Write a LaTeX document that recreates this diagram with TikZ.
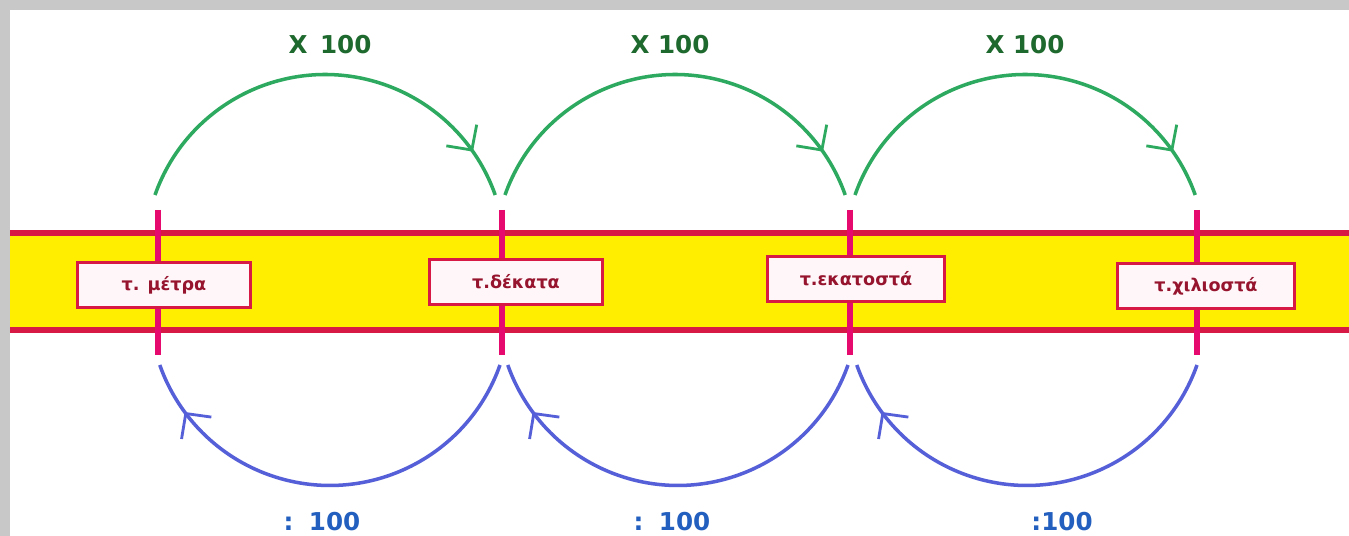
\documentclass[tikz,border=0pt]{standalone}
\usepackage{fontspec}
\setmainfont{DejaVu Sans}
\usetikzlibrary{arrows.meta,decorations.markings}
\definecolor{bandred}{RGB}{215,25,70}
\definecolor{bandyellow}{RGB}{255,238,0}
\definecolor{tickmag}{RGB}{230,10,110}
\definecolor{arcgreen}{RGB}{45,170,95}
\definecolor{lblgreen}{RGB}{30,105,45}
\definecolor{arcblue}{RGB}{85,95,215}
\definecolor{lblblue}{RGB}{35,95,190}
\definecolor{boxtext}{RGB}{150,20,45}
\definecolor{boxfill}{RGB}{255,246,250}
\definecolor{frame}{RGB}{200,200,200}
\tikzset{
  x=0.02cm, y=0.02cm,
  bandline/.style={bandred, line width=3pt},
  tickline/.style={tickmag, line width=3.6pt},
  unitbox/.style={draw=bandred, line width=1.8pt, fill=boxfill, text=boxtext,
    font=\bfseries\fontsize{10}{12}\selectfont, minimum width=3.46cm, minimum height=0.9cm, inner sep=0pt},
  gchev/.style={decoration={markings, mark=at position 0.89 with {\arrow{Straight Barb[length=0.36cm,width=0.74cm,line width=1.6pt]}}}, postaction=decorate},
  bchev/.style={decoration={markings, mark=at position 0.88 with {\arrow{Straight Barb[length=0.36cm,width=0.74cm,line width=1.6pt]}}}, postaction=decorate},
  garc/.style={arcgreen, line width=2pt, gchev},
  barc/.style={arcblue, line width=2pt, bchev},
  glabel/.style={text=lblgreen, font=\bfseries\fontsize{14}{17}\selectfont},
  blabel/.style={text=lblblue, font=\bfseries\fontsize{14}{17}\selectfont},
}
\begin{document}
\begin{tikzpicture}
\useasboundingbox (0,0) rectangle (1349,536);
\fill[frame] (0,0) rectangle (1349,536);
\fill[white] (10,0) rectangle (1349,526);
% band
\fill[bandyellow] (10,206) rectangle (1349,303);
\draw[bandline] (10,303) -- (1349,303);
\draw[bandline] (10,206) -- (1349,206);
% ticks
\foreach \x/\n in {158/1,502/2,850/3,1197/4}{
  \coordinate (tt\n) at (\x,326);
  \coordinate (tb\n) at (\x,181);
  \draw[tickline] (tt\n) -- (tb\n);
}
% boxes
\node[unitbox] (m) at (164,251) {τ. μέτρα};
\node[unitbox] (d) at (516,254) {τ.δέκατα};
\node[unitbox, minimum width=3.54cm] (e) at (856,257) {τ.εκατοστά};
\node[unitbox, minimum width=3.54cm] (c) at (1206,250) {τ.χιλιοστά};
% green arcs (circular, radius 180.4 units = 3.608cm)
\coordinate (g1) at (155,341);
\coordinate (g2) at (505,341);
\coordinate (g3) at (855,341);
\draw[garc] (g1) arc[start angle=160.6, end angle=19.4, radius=3.608cm];
\draw[garc] (g2) arc[start angle=160.6, end angle=19.4, radius=3.608cm];
\draw[garc] (g3) arc[start angle=160.6, end angle=19.4, radius=3.608cm];
% blue arcs
\coordinate (b1) at (500,171);
\coordinate (b2) at (848,171);
\coordinate (b3) at (1197,171);
\draw[barc] (b1) arc[start angle=-19.4, end angle=-160.6, radius=3.608cm];
\draw[barc] (b2) arc[start angle=-19.4, end angle=-160.6, radius=3.608cm];
\draw[barc] (b3) arc[start angle=-19.4, end angle=-160.6, radius=3.608cm];
% labels
\node[glabel] (x1) at (330,491) {X\, 100};
\node[glabel] (x2) at (670,491) {X 100};
\node[glabel] (x3) at (1025,491) {X 100};
\node[blabel] (d1) at (322,14) {:\, 100};
\node[blabel] (d2) at (672,14) {:\, 100};
\node[blabel] (d3) at (1062,14) {:100};
\end{tikzpicture}
\end{document}
